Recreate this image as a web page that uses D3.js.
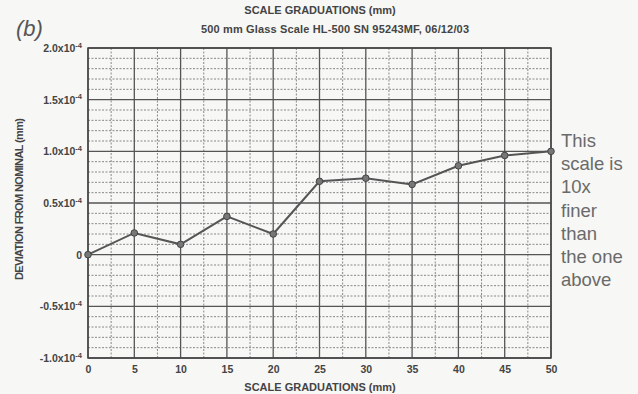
<!DOCTYPE html>
<html><head><meta charset="utf-8">
<script src="https://cdn.jsdelivr.net/npm/d3@7"></script>
<style>
html,body{margin:0;padding:0;background:#f7f7f5;}
svg{display:block;}
text{font-family:"Liberation Sans",Arial,sans-serif;}
</style></head>
<body>
<svg id="c" width="638" height="394"></svg>
<script>
const graduations = [0,5,10,15,20,25,30,35,40,45,50];
const deviation = [0,0.21,0.10,0.37,0.20,0.71,0.74,0.68,0.86,0.96,1.0]; // x10^-4 mm
const xTicks = [0,5,10,15,20,25,30,35,40,45,50];
const yTicks = [-1.0,-0.5,0,0.5,1.0,1.5,2.0];
const yTickMantissa = ["-1.0","-0.5","0","0.5","1.0","1.5","2.0"];
const titleLines = ["SCALE GRADUATIONS (mm)","500 mm Glass Scale HL-500 SN 95243MF, 06/12/03"];
const xTitle = "SCALE GRADUATIONS (mm)";
const yTitle = "DEVIATION FROM NOMINAL (mm)";
const noteLines = ["This","scale is","10x","finer","than","the one","above"];

const svg = d3.select("#c");
const L=88, R=551, T=48, B=358;
const x = d3.scaleLinear().domain([0,50]).range([L,R]);
const y = d3.scaleLinear().domain([-1,2]).range([B,T]);
const ink="#444";

svg.append("rect").attr("width",638).attr("height",394).attr("fill","#f7f7f5");

const g = svg.append("g");
g.selectAll(".hm").data(d3.range(-10,21).filter(v=>v%5!==0).map(v=>v/10)).join("line")
 .attr("x1",L).attr("x2",R).attr("y1",d=>y(d)).attr("y2",d=>y(d))
 .attr("stroke","#888").attr("stroke-width",1).attr("stroke-dasharray","2,1.5");
g.selectAll(".vm").data(d3.range(0,10).map(i=>i*5+2.5)).join("line")
 .attr("y1",T).attr("y2",B).attr("x1",d=>x(d)).attr("x2",d=>x(d))
 .attr("stroke","#888").attr("stroke-width",1).attr("stroke-dasharray","2,1.5");
g.selectAll(".hM").data(yTicks).join("line")
 .attr("x1",L).attr("x2",R).attr("y1",d=>y(d)).attr("y2",d=>y(d))
 .attr("stroke","#555").attr("stroke-width",1.3);
g.selectAll(".vM").data(xTicks).join("line")
 .attr("y1",T).attr("y2",B).attr("x1",d=>x(d)).attr("x2",d=>x(d))
 .attr("stroke","#555").attr("stroke-width",1.3);
g.append("rect").attr("x",L).attr("y",T).attr("width",R-L).attr("height",B-T)
 .attr("fill","none").attr("stroke","#444").attr("stroke-width",1.5);

const xAxis = svg.append("g").attr("transform",`translate(0,${B})`)
 .call(d3.axisBottom(x).tickValues(xTicks).tickSize(0).tickPadding(8).tickFormat(d3.format("d")));
xAxis.select(".domain").remove();
xAxis.selectAll("text").attr("font-size",10.5).attr("fill",ink).attr("font-weight","bold");

const yAxis = svg.append("g").attr("transform",`translate(${L},0)`)
 .call(d3.axisLeft(y).tickValues(yTicks).tickSize(0).tickPadding(6).tickFormat(""));
yAxis.select(".domain").remove();
yAxis.selectAll(".tick text").each(function(d,i){
  const t=d3.select(this).attr("font-size",10.5).attr("fill",ink).attr("font-weight","bold").attr("dy","0.32em");
  if(d===0){ t.text("0"); return; }
  t.append("tspan").text(yTickMantissa[i]+"x10");
  t.append("tspan").text("-4").attr("font-size",7.5).attr("dy","-0.55em");
});

const line = d3.line().x((d,i)=>x(graduations[i])).y(d=>y(d));
svg.append("path").datum(deviation).attr("d",line).attr("fill","none")
 .attr("stroke","#555").attr("stroke-width",2);
svg.selectAll(".pt").data(deviation).join("circle")
 .attr("cx",(d,i)=>x(graduations[i])).attr("cy",d=>y(d)).attr("r",3.3)
 .attr("fill","#777").attr("stroke","#444").attr("stroke-width",1);

svg.append("text").attr("x",320).attr("y",14).attr("text-anchor","middle")
 .attr("font-size",11).attr("font-weight","bold").attr("fill",ink).text(titleLines[0]);
svg.append("text").attr("x",335).attr("y",33).attr("text-anchor","middle")
 .attr("font-size",11).attr("font-weight","bold").attr("fill",ink).attr("textLength",268).text(titleLines[1]);
svg.append("text").attr("x",16).attr("y",36).attr("font-size",22).attr("font-style","italic")
 .attr("fill","#555").text("(b)");
svg.append("text").attr("x",320).attr("y",391).attr("text-anchor","middle")
 .attr("font-size",11).attr("font-weight","bold").attr("fill",ink).text(xTitle);
svg.append("text").attr("transform",`translate(23,199) rotate(-90)`).attr("text-anchor","middle")
 .attr("font-size",11).attr("font-weight","bold").attr("fill",ink).attr("textLength",162).text(yTitle);

svg.append("g").selectAll("text").data(noteLines).join("text")
 .attr("x",561).attr("y",(d,i)=>147+i*23.2).attr("font-size",18.5).attr("fill","#6a6a6a").text(d=>d);
</script>
</body></html>
